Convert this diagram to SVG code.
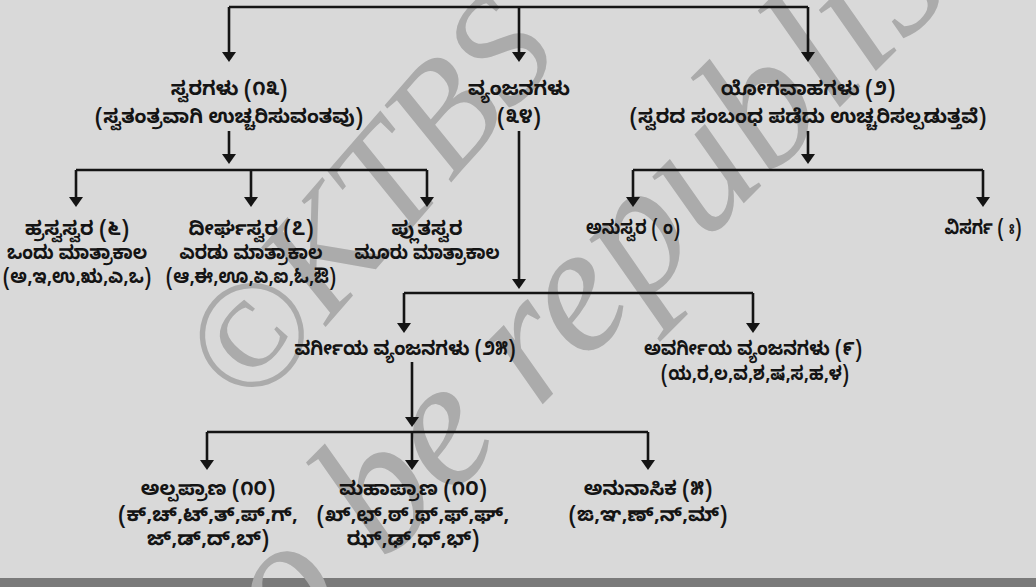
<svg xmlns="http://www.w3.org/2000/svg" width="1036" height="587" viewBox="0 0 1036 587">
<defs>
<style>
.bg{fill:#d9d9d9}
.band{fill:#7a7a7a}
.wm{font-family:"Liberation Serif","DejaVu Serif",serif;font-style:italic;fill:#ababab}
.t{font-family:"Noto Sans Kannada","Noto Serif Kannada","Lohit Kannada","Noto Sans",sans-serif;font-size:19.5px;font-weight:bold;fill:#141414;text-anchor:middle}
.c{fill:none;stroke:#141414;stroke-width:2.6}
</style>
<marker id="arr" viewBox="0 0 10 14" markerWidth="10" markerHeight="14" refX="5" refY="7" orient="auto" markerUnits="userSpaceOnUse">
<path d="M0,0 L10,7 L0,14 z" fill="#141414"/>
</marker>
</defs>
<rect class="bg" x="0" y="0" width="1036" height="587"/>
<rect class="band" x="0" y="578" width="1036" height="9"/>
<g id="watermark">
<text class="wm" x="250" y="414" font-size="154" transform="rotate(-49 250 414)">©KTBS</text>
<text class="wm" x="55" y="892" font-size="182" transform="rotate(-45 55 892)">not to be republished</text>
</g>
<g id="connectors">
<path class="c" d="M229,7 H808"/>
<path class="c" d="M229,7 V57" marker-end="url(#arr)"/>
<path class="c" d="M519,7 V57" marker-end="url(#arr)"/>
<path class="c" d="M808,7 V57" marker-end="url(#arr)"/>
<path class="c" d="M229,131 V159" marker-end="url(#arr)"/>
<path class="c" d="M76,170 H427"/>
<path class="c" d="M76,170 V202" marker-end="url(#arr)"/>
<path class="c" d="M251,170 V202" marker-end="url(#arr)"/>
<path class="c" d="M427,170 V202" marker-end="url(#arr)"/>
<path class="c" d="M808,131 V159" marker-end="url(#arr)"/>
<path class="c" d="M633,170 H983"/>
<path class="c" d="M633,170 V202" marker-end="url(#arr)"/>
<path class="c" d="M983,170 V202" marker-end="url(#arr)"/>
<path class="c" d="M519,131 V284" marker-end="url(#arr)"/>
<path class="c" d="M404,293 H753"/>
<path class="c" d="M404,293 V328" marker-end="url(#arr)"/>
<path class="c" d="M753,293 V328" marker-end="url(#arr)"/>
<path class="c" d="M412,362 V422" marker-end="url(#arr)"/>
<path class="c" d="M207,432 H648"/>
<path class="c" d="M207,432 V465" marker-end="url(#arr)"/>
<path class="c" d="M412,432 V465" marker-end="url(#arr)"/>
<path class="c" d="M648,432 V465" marker-end="url(#arr)"/>
</g>
<g id="svaragalu"><text class="t" x="229" y="95">ಸ್ವರಗಳು (೧೩)</text><text class="t" x="229" y="123">(ಸ್ವತಂತ್ರವಾಗಿ ಉಚ್ಚರಿಸುವಂತವು)</text></g>
<g id="vyanjanagalu"><text class="t" x="519" y="95">ವ್ಯಂಜನಗಳು</text><text class="t" x="519" y="123">(೩೪)</text></g>
<g id="yogavahagalu"><text class="t" x="808" y="95">ಯೋಗವಾಹಗಳು (೨)</text><text class="t" x="808" y="123">(ಸ್ವರದ ಸಂಬಂಧ ಪಡೆದು ಉಚ್ಚರಿಸಲ್ಪಡುತ್ತವೆ)</text></g>
<g id="hrasvasvara"><text class="t" x="77" y="235">ಹ್ರಸ್ವಸ್ವರ (೬)</text><text class="t" x="77" y="259" textLength="140" lengthAdjust="spacingAndGlyphs">ಒಂದು ಮಾತ್ರಾಕಾಲ</text><text class="t" x="77" y="283" textLength="148" lengthAdjust="spacingAndGlyphs">(ಅ,ಇ,ಉ,ಋ,ಎ,ಒ)</text></g>
<g id="dirghasvara"><text class="t" x="251" y="235">ದೀರ್ಘಸ್ವರ (೭)</text><text class="t" x="251" y="259" textLength="143" lengthAdjust="spacingAndGlyphs">ಎರಡು ಮಾತ್ರಾಕಾಲ</text><text class="t" x="251" y="283" textLength="170" lengthAdjust="spacingAndGlyphs">(ಆ,ಈ,ಊ,ಏ,ಐ,ಓ,ಔ)</text></g>
<g id="plutasvara"><text class="t" x="427" y="235">ಪ್ಲುತಸ್ವರ</text><text class="t" x="427" y="259" textLength="145" lengthAdjust="spacingAndGlyphs">ಮೂರು ಮಾತ್ರಾಕಾಲ</text></g>
<g id="anusvara"><text class="t" x="633" y="234" textLength="94" lengthAdjust="spacingAndGlyphs">ಅನುಸ್ವರ (&#160;ಂ)</text></g>
<g id="visarga"><text class="t" x="983" y="234" textLength="77" lengthAdjust="spacingAndGlyphs">ವಿಸರ್ಗ (&#160;ಃ)</text></g>
<g id="vargiya"><text class="t" x="405" y="355" textLength="221" lengthAdjust="spacingAndGlyphs">ವರ್ಗೀಯ ವ್ಯಂಜನಗಳು (೨೫)</text></g>
<g id="avargiya"><text class="t" x="753" y="355" textLength="218" lengthAdjust="spacingAndGlyphs">ಅವರ್ಗೀಯ ವ್ಯಂಜನಗಳು (೯)</text><text class="t" x="755" y="380" textLength="188" lengthAdjust="spacingAndGlyphs">(ಯ,ರ,ಲ,ವ,ಶ,ಷ,ಸ,ಹ,ಳ)</text></g>
<g id="alpaprana"><text class="t" x="208" y="495">ಅಲ್ಪಪ್ರಾಣ (೧೦)</text><text class="t" x="208" y="521">(ಕ್,ಚ್,ಟ್,ತ್,ಪ್,ಗ್,</text><text class="t" x="208" y="545">ಜ್,ಡ್,ದ್,ಬ್)</text></g>
<g id="mahaprana"><text class="t" x="413" y="495">ಮಹಾಪ್ರಾಣ (೧೦)</text><text class="t" x="413" y="521">(ಖ್,ಛ್,ಠ್,ಥ್,ಫ್,ಘ್,</text><text class="t" x="413" y="545">ಝ್,ಢ್,ಧ್,ಭ್)</text></g>
<g id="anunasika"><text class="t" x="648" y="495">ಅನುನಾಸಿಕ (೫)</text><text class="t" x="648" y="521">(ಙ,ಞ,ಣ್,ನ್,ಮ್)</text></g>
</svg>
